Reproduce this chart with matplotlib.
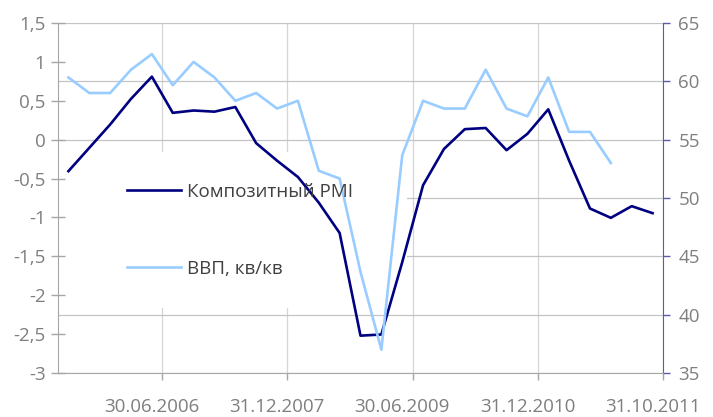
import numpy as np
import matplotlib
matplotlib.use("Agg")
import matplotlib.pyplot as plt
from matplotlib.patches import Rectangle

plt.rcParams['font.family'] = ['Open Sans', 'DejaVu Sans']

# quarterly categories (only every 6th label is shown)
dates = ["30.06.2005", "30.09.2005", "31.12.2005", "31.03.2006", "30.06.2006",
         "30.09.2006", "31.12.2006", "31.03.2007", "30.06.2007", "30.09.2007",
         "31.12.2007", "31.03.2008", "30.06.2008", "30.09.2008", "31.12.2008",
         "31.03.2009", "30.06.2009", "30.09.2009", "31.12.2009", "31.03.2010",
         "30.06.2010", "30.09.2010", "31.12.2010", "31.03.2011", "30.06.2011",
         "31.07.2011", "31.08.2011", "30.09.2011", "31.10.2011"]

pmi = [52.3, 54.3, 56.3, 58.5, 60.4, 57.3, 57.5, 57.4, 57.8, 54.7,
       53.2, 51.8, 49.6, 47.0, 38.2, 38.3, 44.5, 51.1, 54.2, 55.9,
       56.0, 54.1, 55.5, 57.6, 53.2, 49.1, 48.3, 49.3, 48.7]

gdp = [0.8, 0.6, 0.6, 0.9, 1.1, 0.7, 1.0, 0.8, 0.5, 0.6,
       0.4, 0.5, -0.4, -0.5, -1.7, -2.7, -0.2, 0.5, 0.4, 0.4,
       0.9, 0.4, 0.3, 0.8, 0.1, 0.1, -0.3, np.nan, np.nan]

left_ticks = [1.5, 1, 0.5, 0, -0.5, -1, -1.5, -2, -2.5, -3]
right_ticks = [35, 40, 45, 50, 55, 60, 65]
label_idx = [4, 10, 16, 22, 28]

tick_col = '#7f7f7f'
spine_col = '#a6a6a6'

fig = plt.figure(figsize=(7.13, 4.17), dpi=100)
ax = fig.add_axes([58 / 713, 44 / 417, 605 / 713, 350 / 417])
ax2 = ax.twinx()

x = np.arange(len(dates))

# PMI on the right-hand scale (drawn first, below GDP)
ax.plot(x, pmi, color='#000080', lw=1.9, zorder=3, label='Композитный PMI')
ax.set_ylim(35, 65)
ax.set_xlim(-0.5, len(dates) - 0.5)
ax.yaxis.tick_right()
ax.set_yticks(right_ticks)
ax.set_yticklabels([str(t) for t in right_ticks])
ax.tick_params(axis='y', direction='out', length=5, width=1, color='#5b5bab',
               labelsize=13.5, labelcolor=tick_col, pad=6)
ax.yaxis.grid(True, color='#c4c4c4', lw=0.9)
ax.set_axisbelow(True)

ax.set_xticks(label_idx)
ax.set_xticklabels([dates[i] for i in label_idx])
ax.set_xticks([i + 0.5 for i in label_idx], minor=True)
ax.tick_params(axis='x', which='major', length=0, labelsize=13.5,
               labelcolor=tick_col, pad=18)
ax.tick_params(axis='x', which='minor', direction='out', length=5, width=1,
               color=spine_col)
ax.xaxis.grid(True, which='minor', color='#d6d6d6', lw=0.9)

# white area behind the legend hides the gridlines
ax.add_patch(Rectangle((0, 0.186), 0.577, 0.445, transform=ax.transAxes,
                       facecolor='white', edgecolor='none', zorder=1))

for s in ['top', 'left']:
    ax.spines[s].set_visible(False)
ax.spines['right'].set_color('#5b5bab')
ax.spines['bottom'].set_color(spine_col)

# GDP q/q on the left-hand scale
ax2.plot(x, gdp, color='#99ccff', lw=1.9, zorder=3, label='ВВП, кв/кв')
ax2.set_ylim(-3, 1.5)
ax2.yaxis.tick_left()
ax2.set_yticks(left_ticks)
ax2.set_yticklabels([str(t).replace('.', ',').replace(',0', '') if t != 0 else '0'
                     for t in left_ticks])
ax2.tick_params(axis='y', direction='inout', length=10, width=1, color=spine_col,
                labelsize=13.5, labelcolor=tick_col, pad=4)
for s in ['top', 'right', 'bottom']:
    ax2.spines[s].set_visible(False)
ax2.spines['left'].set_color(spine_col)

h1, l1 = ax.get_legend_handles_labels()
h2, l2 = ax2.get_legend_handles_labels()
leg = ax2.legend(h1 + h2, l1 + l2, loc='upper left',
                 bbox_to_anchor=(110 / 713, 1 - 166 / 417),
                 bbox_transform=fig.transFigure, frameon=False,
                 fontsize=13.5, handlelength=2.9, handletextpad=0.3,
                 labelspacing=3.15)
for t in leg.get_texts():
    t.set_color('#404040')

fig.savefig('out.png', dpi=100)
